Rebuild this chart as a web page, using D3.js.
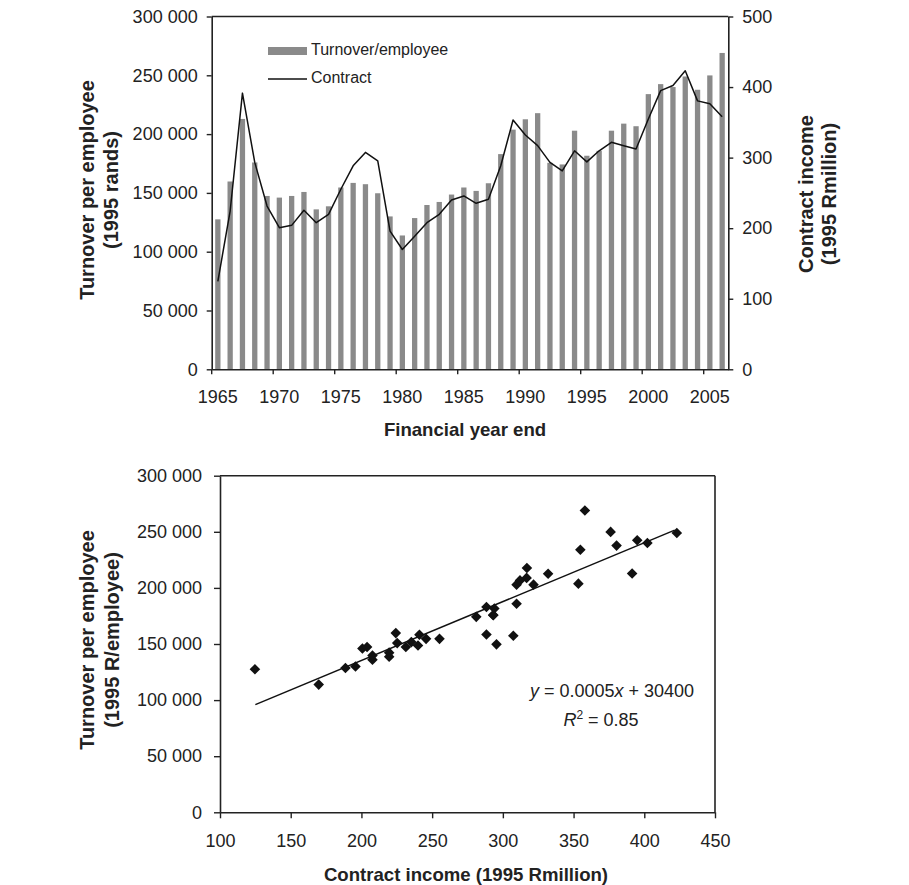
<!DOCTYPE html>
<html><head><meta charset="utf-8">
<script src="https://cdn.jsdelivr.net/npm/d3@7"></script>
<style>
body{margin:0;background:#fff}
text{font-family:"Liberation Sans",Arial,sans-serif;fill:#222}
</style>
</head><body>
<svg id="c" width="909" height="885"></svg>
<script>
// ---------- data ----------
const years = [1965,1966,1967,1968,1969,1970,1971,1972,1973,1974,
               1975,1976,1977,1978,1979,1980,1981,1982,1983,1984,
               1985,1986,1987,1988,1989,1990,1991,1992,1993,1994,
               1995,1996,1997,1998,1999,2000,2001,2002,2003,2004,
               2005,2006];
const turnover = [127500,159700,212900,175900,147400,146000,147400,150800,136000,138600,
                  154600,158500,157400,149700,130000,113800,128600,139700,142300,148600,
                  154600,151700,158200,183000,203800,212600,217800,175600,174200,202900,
                  181600,185800,202900,208900,206700,234000,242500,240000,249000,237700,
                  249900,269000];
const contract = [124.7,224.3,391.4,293.2,231.4,200.7,204.0,225.3,207.8,219.6,
                  255.2,288.4,307.4,295.5,195.8,169.8,188.7,207.8,219.6,240.0,
                  245.7,235.3,241.0,288.4,353.4,332.0,317.0,293.2,281.2,309.7,
                  294.0,309.7,321.7,316.8,312.1,354.8,395.0,402.2,423.0,380.4,
                  376.2,358.0];
const leftTicks = [0,50000,100000,150000,200000,250000,300000];
const rightTicks = [0,100,200,300,400,500];
const yearTicks = [1965,1970,1975,1980,1985,1990,1995,2000,2005];
const scatterXTicks = [100,150,200,250,300,350,400,450];
const scatterYTicks = [0,50000,100000,150000,200000,250000,300000];
const trendSlope = 524.5, trendIntercept = 30400;
const trendX = [125, 421.5];
const eqSlopeText = "0.0005", eqInterceptText = "30400", r2Text = "0.85";

// ---------- setup ----------
const svg = d3.select('#c');
const fmt = d => d3.format(',')(d).replace(/,/g,' ');
const AX = '#222', BAR = '#8a8a8a';
const tickFont = 18, titleFont = 20, hTitleFont = 18.6;

function styleAxis(g){
  g.selectAll('.domain').attr('stroke',AX).attr('stroke-width',1.6);
  g.selectAll('.tick line').attr('stroke',AX).attr('stroke-width',1.4);
  g.selectAll('.tick text').attr('font-size',tickFont).attr('fill','#222')
    .attr('font-family','"Liberation Sans",Arial,sans-serif');
}

// ---------- top chart ----------
const T = {l:211.7, r:728.3, t:16.5, b:369.3};
const x = d3.scaleBand().domain(years).range([T.l, T.r]);
const yL = d3.scaleLinear().domain([0,300000]).range([T.b, T.t]);
const yR = d3.scaleLinear().domain([0,500]).range([T.b, T.t]);
const bw = x.bandwidth(), barW = bw*0.43;

svg.append('g').selectAll('rect').data(years).join('rect')
  .attr('x', (d)=> x(d) + (bw-barW)/2)
  .attr('width', barW)
  .attr('y', (d,i)=> yL(turnover[i]))
  .attr('height', (d,i)=> T.b - yL(turnover[i]))
  .attr('fill', BAR);

svg.append('path')
  .datum(years)
  .attr('fill','none').attr('stroke','#111').attr('stroke-width',1.5)
  .attr('stroke-linejoin','round')
  .attr('d', d3.line().x(d=>x(d)+bw/2).y((d,i)=>yR(contract[i])));

svg.append('g').attr('transform',`translate(${T.l},0)`)
  .call(d3.axisLeft(yL).tickValues(leftTicks).tickFormat(fmt).tickSize(5).tickSizeOuter(0).tickPadding(9))
  .call(styleAxis);
svg.append('g').attr('transform',`translate(${T.r},0)`)
  .call(d3.axisRight(yR).tickValues(rightTicks).tickSize(5).tickSizeOuter(0).tickPadding(9))
  .call(styleAxis);
svg.append('g').attr('transform',`translate(0,${T.b})`)
  .call(d3.axisBottom(x).tickValues(yearTicks).tickSize(0).tickSizeOuter(0).tickPadding(20.6))
  .call(styleAxis);
// ticks at category boundaries
svg.append('g').selectAll('line').data(yearTicks).join('line')
  .attr('x1', d=>x(d)).attr('x2', d=>x(d))
  .attr('y1', T.b).attr('y2', T.b+5)
  .attr('stroke',AX).attr('stroke-width',1.4);
svg.append('line').attr('x1',T.l).attr('x2',T.r).attr('y1',T.t).attr('y2',T.t)
  .attr('stroke',AX).attr('stroke-width',1.6);

// legend
svg.append('rect').attr('x',268).attr('y',47).attr('width',39).attr('height',8).attr('fill',BAR);
svg.append('text').attr('x',311).attr('y',55).attr('font-size',16).text('Turnover/employee');
svg.append('line').attr('x1',268).attr('x2',307).attr('y1',79).attr('y2',79).attr('stroke','#111').attr('stroke-width',1.3);
svg.append('text').attr('x',311).attr('y',83).attr('font-size',16).text('Contract');

// titles
function vTitle(cy, lines){
  const g = svg.append('g').attr('transform',`translate(0,${cy}) rotate(-90)`);
  lines.forEach(([t,b])=> g.append('text').attr('x',0).attr('y',b).attr('text-anchor','middle')
    .attr('font-size',titleFont).attr('font-weight','bold').text(t));
}
vTitle(190, [['Turnover per employee',93.5],['(1995 rands)',118]]);
vTitle(194, [['Contract income',812.5],['(1995 Rmillion)',836]]);
svg.append('text').attr('x',465).attr('y',436).attr('text-anchor','middle')
  .attr('font-size',hTitleFont).attr('font-weight','bold').text('Financial year end');

// ---------- scatter ----------
const S = {l:220, r:715, t:475.7, b:812.3};
const sx = d3.scaleLinear().domain([100,450]).range([S.l,S.r]);
const sy = d3.scaleLinear().domain([0,300000]).range([S.b,S.t]);

svg.append('g').attr('transform',`translate(${S.l},0)`)
  .call(d3.axisLeft(sy).tickValues(scatterYTicks).tickFormat(fmt).tickSize(6).tickSizeOuter(0).tickPadding(12))
  .call(styleAxis);
svg.append('g').attr('transform',`translate(0,${S.b})`)
  .call(d3.axisBottom(sx).tickValues(scatterXTicks).tickSize(6).tickSizeOuter(0).tickPadding(15.6))
  .call(styleAxis);
svg.append('line').attr('x1',S.l).attr('x2',S.r).attr('y1',S.t).attr('y2',S.t).attr('stroke',AX).attr('stroke-width',1.6);
svg.append('line').attr('x1',S.r).attr('x2',S.r).attr('y1',S.t).attr('y2',S.b).attr('stroke',AX).attr('stroke-width',1.6);

svg.append('path')
  .attr('fill','none').attr('stroke','#111').attr('stroke-width',1.5)
  .attr('d', d3.line().x(d=>sx(d)).y(d=>sy(trendSlope*d+trendIntercept))(trendX));

const diamond = d3.symbol(d3.symbolSquare, 56);
svg.append('g').selectAll('path').data(years).join('path')
  .attr('d', diamond)
  .attr('transform', (d,i)=>`translate(${sx(contract[i])},${sy(turnover[i])}) rotate(45)`)
  .attr('fill','#111');

const eq = svg.append('text').attr('x',612).attr('y',697.3).attr('text-anchor','middle').attr('font-size',18);
eq.append('tspan').attr('font-style','italic').text('y');
eq.append('tspan').text(' = ' + eqSlopeText);
eq.append('tspan').attr('font-style','italic').text('x');
eq.append('tspan').text(' + ' + eqInterceptText);
const r2 = svg.append('text').attr('x',601).attr('y',725.7).attr('text-anchor','middle').attr('font-size',18);
r2.append('tspan').attr('font-style','italic').text('R');
r2.append('tspan').attr('font-size',12).attr('dy',-7).text('2');
r2.append('tspan').attr('dy',7).text(' = ' + r2Text);

vTitle(640, [['Turnover per employee',94],['(1995 R/employee)',118.5]]);
svg.append('text').attr('x',466).attr('y',881).attr('text-anchor','middle')
  .attr('font-size',hTitleFont).attr('font-weight','bold').text('Contract income (1995 Rmillion)');
</script>
</body></html>
